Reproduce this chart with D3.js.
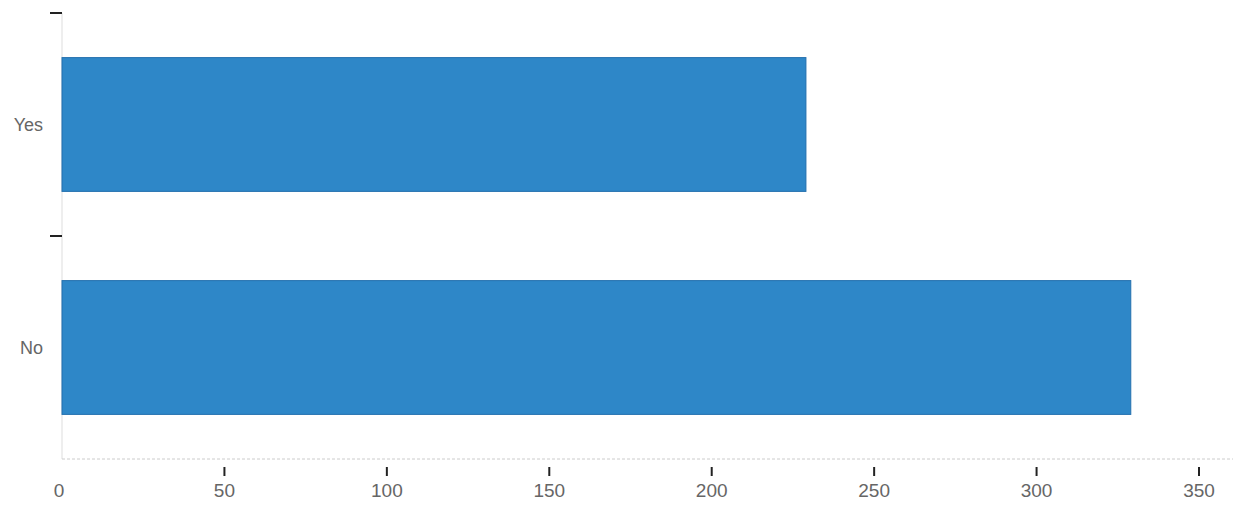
<!DOCTYPE html>
<html>
<head>
<meta charset="utf-8">
<script src="https://cdn.jsdelivr.net/npm/d3@7"></script>
<style>
  html, body { margin: 0; padding: 0; background: #fff; }
  svg { display: block; }
  text { font-family: "Liberation Sans", Arial, sans-serif; fill: #666; }
</style>
</head>
<body>
<svg id="chart" width="1233" height="514"></svg>
<script>
const categories = ["Yes", "No"];
const values = [229, 329];
const xTicks = [0, 50, 100, 150, 200, 250, 300, 350];

const svg = d3.select("#chart");
const x = d3.scaleLinear().domain([0, 350]).range([62, 1199]);
const y = d3.scaleBand().domain(categories).range([13, 459])
  .paddingInner(0.4).paddingOuter(0.2);

// y axis line (faint)
svg.append("line")
  .attr("x1", x(0)).attr("x2", x(0))
  .attr("y1", y.range()[0]).attr("y2", y.range()[1])
  .attr("stroke", "#ddd").attr("stroke-width", 1);

// x axis line (faint, dotted)
svg.append("line")
  .attr("x1", x(0)).attr("x2", 1233)
  .attr("y1", y.range()[1]).attr("y2", y.range()[1])
  .attr("stroke", "#ccc").attr("stroke-width", 1)
  .attr("stroke-dasharray", "3,2");

// bars
svg.selectAll("rect.bar").data(categories).enter().append("rect")
  .attr("class", "bar")
  .attr("x", x(0))
  .attr("y", d => y(d))
  .attr("width", (d, i) => x(values[i]) - x(0))
  .attr("height", y.bandwidth())
  .attr("fill", "#2e87c8")
  .attr("stroke", "#236fae")
  .attr("stroke-width", 1);

// y ticks at band starts
const step = y.step();
const yStart = y.range()[0];
svg.selectAll("line.ytick").data(categories).enter().append("line")
  .attr("class", "ytick")
  .attr("x1", x(0) - 12).attr("x2", x(0))
  .attr("y1", (d, i) => yStart + i * step)
  .attr("y2", (d, i) => yStart + i * step)
  .attr("stroke", "#222").attr("stroke-width", 2);

// y labels
svg.selectAll("text.ylab").data(categories).enter().append("text")
  .attr("class", "ylab")
  .attr("x", x(0) - 19)
  .attr("y", d => y(d) + y.bandwidth() / 2)
  .attr("text-anchor", "end")
  .attr("dominant-baseline", "central")
  .style("font-size", "18px")
  .text(d => d);

// x ticks
const axisY = y.range()[1];
svg.selectAll("line.xtick").data(xTicks.filter(t => t > 0)).enter().append("line")
  .attr("class", "xtick")
  .attr("x1", d => x(d)).attr("x2", d => x(d))
  .attr("y1", axisY + 8).attr("y2", axisY + 17)
  .attr("stroke", "#222").attr("stroke-width", 2);

// x labels
svg.selectAll("text.xlab").data(xTicks).enter().append("text")
  .attr("class", "xlab")
  .attr("x", d => x(d) - (d === 0 ? 3 : 0))
  .attr("y", axisY + 31)
  .attr("text-anchor", "middle")
  .attr("dominant-baseline", "central")
  .style("font-size", "19px")
  .text(d => d);
</script>
</body>
</html>
